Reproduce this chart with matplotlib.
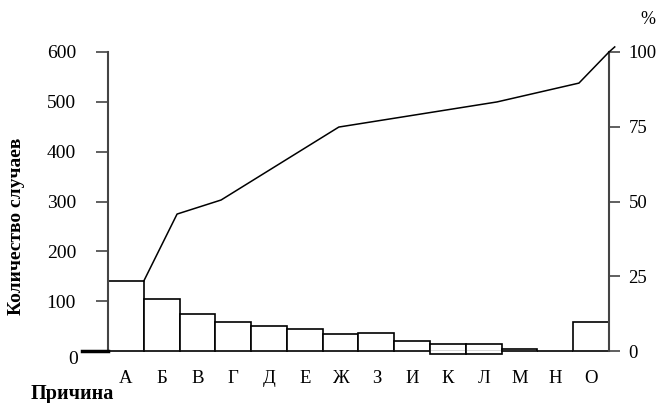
import matplotlib.pyplot as plt

plt.rcParams['font.family'] = ['Liberation Serif', 'DejaVu Serif']

# причины и количество случаев
categories = ['А', 'Б', 'В', 'Г', 'Д', 'Е', 'Ж', 'З', 'И', 'К', 'Л', 'М', 'Н', 'О']
counts = [140, 105, 75, 59, 51, 44, 34, 37, 21, 14, 14, 4, 1, 59]
bottoms = [0, 0, 0, 0, 0, 0, 0, 0, 0, -6, -6, 0, 0, 0]

# кумулятивная кривая (%), точки излома
cum_x = [0.5, 1.43, 2.66, 5.95, 10.37, 12.66, 13.5, 13.66]
cum_pct = [23.4, 45.8, 50.5, 74.9, 83.3, 89.6, 100, 101.7]

left_ticks = [100, 200, 300, 400, 500, 600]
right_ticks = [0, 25, 50, 75, 100]

fig = plt.figure(figsize=(6.61, 4.03), dpi=100)
ax = fig.add_axes([108/661, 1 - 351/403, (609 - 108)/661, (351 - 52)/403])

heights = [c - b for c, b in zip(counts, bottoms)]
x = list(range(len(categories)))
ax.bar(x, heights, bottom=bottoms, width=1.0, color='white',
       edgecolor='black', linewidth=1.2, zorder=2, clip_on=False)
ax.axhline(0, color='#333333', lw=1.0, zorder=3)
ax.plot([-1.23, -0.5], [0, 0], color='black', lw=2.5, clip_on=False, zorder=4)

ax.set_xlim(-0.5, 13.5)
ax.set_ylim(0, 600)
ax.set_xticks(x)
ax.set_xticklabels(categories, fontsize=13.5)
ax.tick_params(axis='x', length=0, pad=14)
ax.set_yticks(left_ticks)
ax.tick_params(axis='y', length=9, width=1.2, color='#444444', pad=14, labelsize=14)
ax.text(-1.34, -1, '0', fontsize=14, ha='right', va='top')

for s in ['top', 'right', 'bottom']:
    ax.spines[s].set_visible(False)
ax.spines['left'].set_color('#444444')
ax.spines['left'].set_linewidth(1.5)

ax2 = ax.twinx()
ax2.plot(cum_x, cum_pct, color='black', lw=1.1, clip_on=False, zorder=5)
ax2.set_ylim(0, 100)
ax2.set_yticks(right_ticks)
ax2.tick_params(axis='y', length=8, width=1.2, color='#444444', pad=6, labelsize=13.5)
for s in ['top', 'left', 'bottom']:
    ax2.spines[s].set_visible(False)
ax2.spines['right'].set_color('#444444')
ax2.spines['right'].set_linewidth(1.5)

fig.text(648/661, 1 - 20/403, '%', fontsize=13, ha='center', va='center')
fig.text(17/661, 1 - 226/403, 'Количество случаев', rotation=90, fontsize=14,
         fontweight='bold', ha='center', va='center')
fig.text(72/661, 1 - 394/403, 'Причина', fontsize=14.5, fontweight='bold',
         ha='center', va='center')

fig.savefig('out.png', dpi=100)
